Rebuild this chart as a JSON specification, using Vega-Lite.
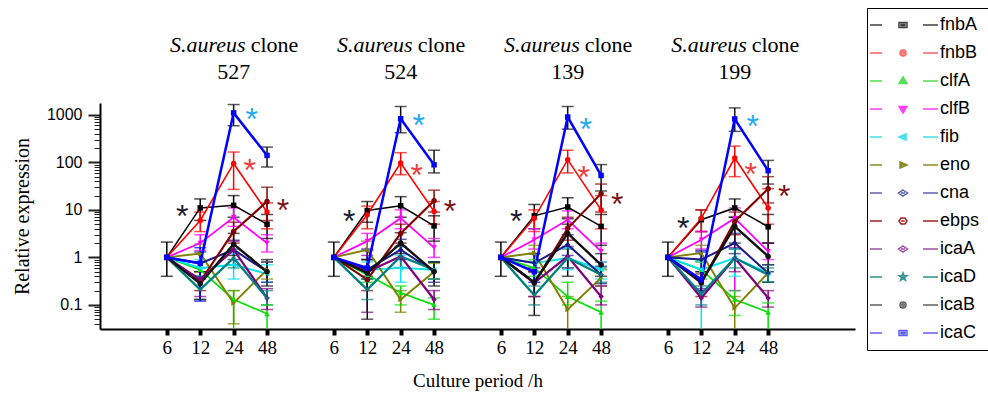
{
 "$schema": "https://vega.github.io/schema/vega-lite/v6.json",
 "width": 755, "height": 226,
 "autosize": {"type": "none"},
 "padding": {"left": 100, "top": 103, "right": 133, "bottom": 68},
 "background": "white",
 "config": {"view": {"stroke": null}},
 "datasets": {
  "d": [
   {"c":"527","g":"fnbA","h":6,"k":"527|6","v":1,"lo":0.4,"hi":2.1},
   {"c":"527","g":"fnbA","h":12,"k":"527|12","v":11,"lo":6,"hi":17},
   {"c":"527","g":"fnbA","h":24,"k":"527|24","v":12.5,"lo":7,"hi":20},
   {"c":"527","g":"fnbA","h":48,"k":"527|48","v":5,"lo":2.5,"hi":8},
   {"c":"527","g":"fnbB","h":6,"k":"527|6","v":1},
   {"c":"527","g":"fnbB","h":12,"k":"527|12","v":6,"lo":3.5,"hi":9},
   {"c":"527","g":"fnbB","h":24,"k":"527|24","v":95,"lo":27,"hi":165},
   {"c":"527","g":"fnbB","h":48,"k":"527|48","v":9,"lo":4,"hi":14},
   {"c":"527","g":"clfA","h":6,"k":"527|6","v":1},
   {"c":"527","g":"clfA","h":12,"k":"527|12","v":0.55,"lo":0.4,"hi":0.8},
   {"c":"527","g":"clfA","h":24,"k":"527|24","v":0.13,"lo":0.02,"hi":0.2},
   {"c":"527","g":"clfA","h":48,"k":"527|48","v":0.065,"lo":0.02,"hi":0.1},
   {"c":"527","g":"clfB","h":6,"k":"527|6","v":1},
   {"c":"527","g":"clfB","h":12,"k":"527|12","v":2,"lo":1.4,"hi":3},
   {"c":"527","g":"clfB","h":24,"k":"527|24","v":7,"lo":4.5,"hi":11},
   {"c":"527","g":"clfB","h":48,"k":"527|48","v":2,"lo":1.3,"hi":3},
   {"c":"527","g":"fib","h":6,"k":"527|6","v":1},
   {"c":"527","g":"fib","h":12,"k":"527|12","v":0.6,"lo":0.4,"hi":0.9},
   {"c":"527","g":"fib","h":24,"k":"527|24","v":0.7,"lo":0.35,"hi":1.2},
   {"c":"527","g":"fib","h":48,"k":"527|48","v":0.45,"lo":0.3,"hi":0.7},
   {"c":"527","g":"eno","h":6,"k":"527|6","v":1},
   {"c":"527","g":"eno","h":12,"k":"527|12","v":1.2,"lo":0.8,"hi":1.9},
   {"c":"527","g":"eno","h":24,"k":"527|24","v":0.11,"lo":0.04,"hi":0.2},
   {"c":"527","g":"eno","h":48,"k":"527|48","v":0.55,"lo":0.35,"hi":0.8},
   {"c":"527","g":"cna","h":6,"k":"527|6","v":1},
   {"c":"527","g":"cna","h":12,"k":"527|12","v":0.75,"lo":0.4,"hi":1.3},
   {"c":"527","g":"cna","h":24,"k":"527|24","v":1.45,"lo":0.9,"hi":2.3},
   {"c":"527","g":"cna","h":48,"k":"527|48","v":0.5,"lo":0.3,"hi":0.8},
   {"c":"527","g":"ebps","h":6,"k":"527|6","v":1},
   {"c":"527","g":"ebps","h":12,"k":"527|12","v":0.31,"lo":0.2,"hi":0.5},
   {"c":"527","g":"ebps","h":24,"k":"527|24","v":3.5,"lo":2,"hi":5.5},
   {"c":"527","g":"ebps","h":48,"k":"527|48","v":15,"lo":6,"hi":30},
   {"c":"527","g":"icaA","h":6,"k":"527|6","v":1},
   {"c":"527","g":"icaA","h":12,"k":"527|12","v":0.34,"lo":0.15,"hi":0.6},
   {"c":"527","g":"icaA","h":24,"k":"527|24","v":1.45,"lo":0.7,"hi":2.2},
   {"c":"527","g":"icaA","h":48,"k":"527|48","v":0.14,"lo":0.08,"hi":0.22},
   {"c":"527","g":"icaD","h":6,"k":"527|6","v":1},
   {"c":"527","g":"icaD","h":12,"k":"527|12","v":0.21,"lo":0.13,"hi":0.35},
   {"c":"527","g":"icaD","h":24,"k":"527|24","v":0.97,"lo":0.6,"hi":1.5},
   {"c":"527","g":"icaD","h":48,"k":"527|48","v":0.14,"lo":0.1,"hi":0.2},
   {"c":"527","g":"icaB","h":6,"k":"527|6","v":1},
   {"c":"527","g":"icaB","h":12,"k":"527|12","v":0.28,"lo":0.13,"hi":0.5},
   {"c":"527","g":"icaB","h":24,"k":"527|24","v":1.9,"lo":1.1,"hi":3.2},
   {"c":"527","g":"icaB","h":48,"k":"527|48","v":0.5,"lo":0.25,"hi":0.9},
   {"c":"527","g":"icaC","h":6,"k":"527|6","v":1},
   {"c":"527","g":"icaC","h":12,"k":"527|12","v":0.75,"lo":0.12,"hi":1.6},
   {"c":"527","g":"icaC","h":24,"k":"527|24","v":1100,"lo":590,"hi":1650},
   {"c":"527","g":"icaC","h":48,"k":"527|48","v":140,"lo":80,"hi":210},

   {"c":"524","g":"fnbA","h":6,"k":"524|6","v":1,"lo":0.4,"hi":2.1},
   {"c":"524","g":"fnbA","h":12,"k":"524|12","v":9.7,"lo":5.5,"hi":15},
   {"c":"524","g":"fnbA","h":24,"k":"524|24","v":12.2,"lo":7,"hi":19},
   {"c":"524","g":"fnbA","h":48,"k":"524|48","v":4.6,"lo":2.2,"hi":7.5},
   {"c":"524","g":"fnbB","h":6,"k":"524|6","v":1},
   {"c":"524","g":"fnbB","h":12,"k":"524|12","v":7.9,"lo":4,"hi":12},
   {"c":"524","g":"fnbB","h":24,"k":"524|24","v":97,"lo":55,"hi":160},
   {"c":"524","g":"fnbB","h":48,"k":"524|48","v":9.3,"lo":5,"hi":15},
   {"c":"524","g":"clfA","h":6,"k":"524|6","v":1},
   {"c":"524","g":"clfA","h":12,"k":"524|12","v":0.43,"lo":0.3,"hi":0.6},
   {"c":"524","g":"clfA","h":24,"k":"524|24","v":0.18,"lo":0.1,"hi":0.25},
   {"c":"524","g":"clfA","h":48,"k":"524|48","v":0.1,"lo":0.05,"hi":0.14},
   {"c":"524","g":"clfB","h":6,"k":"524|6","v":1},
   {"c":"524","g":"clfB","h":12,"k":"524|12","v":2.2,"lo":1.4,"hi":3.2},
   {"c":"524","g":"clfB","h":24,"k":"524|24","v":6.7,"lo":4,"hi":10},
   {"c":"524","g":"clfB","h":48,"k":"524|48","v":1.6,"lo":1,"hi":2.5},
   {"c":"524","g":"fib","h":6,"k":"524|6","v":1},
   {"c":"524","g":"fib","h":12,"k":"524|12","v":0.55,"lo":0.35,"hi":0.8},
   {"c":"524","g":"fib","h":24,"k":"524|24","v":0.6,"lo":0.3,"hi":1.1},
   {"c":"524","g":"fib","h":48,"k":"524|48","v":0.55,"lo":0.35,"hi":0.8},
   {"c":"524","g":"eno","h":6,"k":"524|6","v":1},
   {"c":"524","g":"eno","h":12,"k":"524|12","v":1.45,"lo":0.9,"hi":2.2},
   {"c":"524","g":"eno","h":24,"k":"524|24","v":0.13,"lo":0.07,"hi":0.2},
   {"c":"524","g":"eno","h":48,"k":"524|48","v":0.5,"lo":0.35,"hi":0.75},
   {"c":"524","g":"cna","h":6,"k":"524|6","v":1},
   {"c":"524","g":"cna","h":12,"k":"524|12","v":0.55,"lo":0.35,"hi":0.9},
   {"c":"524","g":"cna","h":24,"k":"524|24","v":1.45,"lo":0.9,"hi":2.4},
   {"c":"524","g":"cna","h":48,"k":"524|48","v":0.5,"lo":0.3,"hi":0.8},
   {"c":"524","g":"ebps","h":6,"k":"524|6","v":1},
   {"c":"524","g":"ebps","h":12,"k":"524|12","v":0.34,"lo":0.2,"hi":0.55},
   {"c":"524","g":"ebps","h":24,"k":"524|24","v":3.2,"lo":2,"hi":5},
   {"c":"524","g":"ebps","h":48,"k":"524|48","v":15.6,"lo":9,"hi":26},
   {"c":"524","g":"icaA","h":6,"k":"524|6","v":1},
   {"c":"524","g":"icaA","h":12,"k":"524|12","v":0.5,"lo":0.07,"hi":1.1},
   {"c":"524","g":"icaA","h":24,"k":"524|24","v":1.05,"lo":0.6,"hi":1.7},
   {"c":"524","g":"icaA","h":48,"k":"524|48","v":0.13,"lo":0.08,"hi":0.2},
   {"c":"524","g":"icaD","h":6,"k":"524|6","v":1},
   {"c":"524","g":"icaD","h":12,"k":"524|12","v":0.21,"lo":0.13,"hi":0.35},
   {"c":"524","g":"icaD","h":24,"k":"524|24","v":1.05,"lo":0.6,"hi":1.7},
   {"c":"524","g":"icaD","h":48,"k":"524|48","v":0.55,"lo":0.35,"hi":0.8},
   {"c":"524","g":"icaB","h":6,"k":"524|6","v":1},
   {"c":"524","g":"icaB","h":12,"k":"524|12","v":0.47,"lo":0.05,"hi":0.9},
   {"c":"524","g":"icaB","h":24,"k":"524|24","v":2,"lo":1.2,"hi":3.3},
   {"c":"524","g":"icaB","h":48,"k":"524|48","v":0.5,"lo":0.25,"hi":0.8},
   {"c":"524","g":"icaC","h":6,"k":"524|6","v":1},
   {"c":"524","g":"icaC","h":12,"k":"524|12","v":0.6,"lo":0.4,"hi":1.5},
   {"c":"524","g":"icaC","h":24,"k":"524|24","v":830,"lo":420,"hi":1500},
   {"c":"524","g":"icaC","h":48,"k":"524|48","v":89,"lo":60,"hi":180},

   {"c":"139","g":"fnbA","h":6,"k":"139|6","v":1,"lo":0.4,"hi":2.1},
   {"c":"139","g":"fnbA","h":12,"k":"139|12","v":7.5,"lo":4,"hi":13},
   {"c":"139","g":"fnbA","h":24,"k":"139|24","v":11.5,"lo":6.5,"hi":18},
   {"c":"139","g":"fnbA","h":48,"k":"139|48","v":4.5,"lo":1.8,"hi":8},
   {"c":"139","g":"fnbB","h":6,"k":"139|6","v":1},
   {"c":"139","g":"fnbB","h":12,"k":"139|12","v":6.7,"lo":3.5,"hi":10},
   {"c":"139","g":"fnbB","h":24,"k":"139|24","v":114,"lo":60,"hi":180},
   {"c":"139","g":"fnbB","h":48,"k":"139|48","v":10,"lo":4,"hi":20},
   {"c":"139","g":"clfA","h":6,"k":"139|6","v":1},
   {"c":"139","g":"clfA","h":12,"k":"139|12","v":0.6,"lo":0.4,"hi":0.9},
   {"c":"139","g":"clfA","h":24,"k":"139|24","v":0.15,"lo":0.1,"hi":0.3},
   {"c":"139","g":"clfA","h":48,"k":"139|48","v":0.07,"lo":0.02,"hi":0.12},
   {"c":"139","g":"clfB","h":6,"k":"139|6","v":1},
   {"c":"139","g":"clfB","h":12,"k":"139|12","v":2.35,"lo":1.5,"hi":4},
   {"c":"139","g":"clfB","h":24,"k":"139|24","v":6.2,"lo":4,"hi":9.5},
   {"c":"139","g":"clfB","h":48,"k":"139|48","v":1.34,"lo":0.8,"hi":2},
   {"c":"139","g":"fib","h":6,"k":"139|6","v":1},
   {"c":"139","g":"fib","h":12,"k":"139|12","v":0.76,"lo":0.5,"hi":1.2},
   {"c":"139","g":"fib","h":24,"k":"139|24","v":0.97,"lo":0.55,"hi":1.6},
   {"c":"139","g":"fib","h":48,"k":"139|48","v":0.55,"lo":0.35,"hi":0.8},
   {"c":"139","g":"eno","h":6,"k":"139|6","v":1},
   {"c":"139","g":"eno","h":12,"k":"139|12","v":1.23,"lo":0.8,"hi":1.8},
   {"c":"139","g":"eno","h":24,"k":"139|24","v":0.08,"lo":0.03,"hi":0.15},
   {"c":"139","g":"eno","h":48,"k":"139|48","v":0.37,"lo":0.25,"hi":0.55},
   {"c":"139","g":"cna","h":6,"k":"139|6","v":1},
   {"c":"139","g":"cna","h":12,"k":"139|12","v":0.76,"lo":0.5,"hi":1.2},
   {"c":"139","g":"cna","h":24,"k":"139|24","v":1.85,"lo":1.1,"hi":3},
   {"c":"139","g":"cna","h":48,"k":"139|48","v":0.43,"lo":0.28,"hi":0.65},
   {"c":"139","g":"ebps","h":6,"k":"139|6","v":1},
   {"c":"139","g":"ebps","h":12,"k":"139|12","v":0.29,"lo":0.15,"hi":0.5},
   {"c":"139","g":"ebps","h":24,"k":"139|24","v":4.1,"lo":2.3,"hi":7},
   {"c":"139","g":"ebps","h":48,"k":"139|48","v":22,"lo":9,"hi":35},
   {"c":"139","g":"icaA","h":6,"k":"139|6","v":1},
   {"c":"139","g":"icaA","h":12,"k":"139|12","v":0.29,"lo":0.15,"hi":0.5},
   {"c":"139","g":"icaA","h":24,"k":"139|24","v":1.05,"lo":0.6,"hi":1.7},
   {"c":"139","g":"icaA","h":48,"k":"139|48","v":0.15,"lo":0.1,"hi":0.25},
   {"c":"139","g":"icaD","h":6,"k":"139|6","v":1},
   {"c":"139","g":"icaD","h":12,"k":"139|12","v":0.16,"lo":0.1,"hi":0.25},
   {"c":"139","g":"icaD","h":24,"k":"139|24","v":0.97,"lo":0.6,"hi":1.5},
   {"c":"139","g":"icaD","h":48,"k":"139|48","v":0.43,"lo":0.3,"hi":0.6},
   {"c":"139","g":"icaB","h":6,"k":"139|6","v":1},
   {"c":"139","g":"icaB","h":12,"k":"139|12","v":0.3,"lo":0.06,"hi":0.6},
   {"c":"139","g":"icaB","h":24,"k":"139|24","v":3.2,"lo":0.4,"hi":5},
   {"c":"139","g":"icaB","h":48,"k":"139|48","v":0.7,"lo":0.4,"hi":1.2},
   {"c":"139","g":"icaC","h":6,"k":"139|6","v":1},
   {"c":"139","g":"icaC","h":12,"k":"139|12","v":0.5,"lo":0.3,"hi":1.2},
   {"c":"139","g":"icaC","h":24,"k":"139|24","v":900,"lo":500,"hi":1500},
   {"c":"139","g":"icaC","h":48,"k":"139|48","v":53,"lo":25,"hi":90},

   {"c":"199","g":"fnbA","h":6,"k":"199|6","v":1,"lo":0.4,"hi":2.1},
   {"c":"199","g":"fnbA","h":12,"k":"199|12","v":6.2,"lo":3.5,"hi":10},
   {"c":"199","g":"fnbA","h":24,"k":"199|24","v":11,"lo":7,"hi":17},
   {"c":"199","g":"fnbA","h":48,"k":"199|48","v":4.4,"lo":2,"hi":8},
   {"c":"199","g":"fnbB","h":6,"k":"199|6","v":1},
   {"c":"199","g":"fnbB","h":12,"k":"199|12","v":6.7,"lo":3.5,"hi":10},
   {"c":"199","g":"fnbB","h":24,"k":"199|24","v":123,"lo":50,"hi":220},
   {"c":"199","g":"fnbB","h":48,"k":"199|48","v":11,"lo":5,"hi":28},
   {"c":"199","g":"clfA","h":6,"k":"199|6","v":1},
   {"c":"199","g":"clfA","h":12,"k":"199|12","v":0.55,"lo":0.35,"hi":0.85},
   {"c":"199","g":"clfA","h":24,"k":"199|24","v":0.13,"lo":0.06,"hi":0.2},
   {"c":"199","g":"clfA","h":48,"k":"199|48","v":0.07,"lo":0.02,"hi":0.11},
   {"c":"199","g":"clfB","h":6,"k":"199|6","v":1},
   {"c":"199","g":"clfB","h":12,"k":"199|12","v":2.35,"lo":1.5,"hi":3.5},
   {"c":"199","g":"clfB","h":24,"k":"199|24","v":6.7,"lo":0.2,"hi":11},
   {"c":"199","g":"clfB","h":48,"k":"199|48","v":1.34,"lo":0.9,"hi":2},
   {"c":"199","g":"fib","h":6,"k":"199|6","v":1},
   {"c":"199","g":"fib","h":12,"k":"199|12","v":0.55,"lo":0.02,"hi":0.8},
   {"c":"199","g":"fib","h":24,"k":"199|24","v":0.97,"lo":0.4,"hi":1.5},
   {"c":"199","g":"fib","h":48,"k":"199|48","v":0.47,"lo":0.3,"hi":0.7},
   {"c":"199","g":"eno","h":6,"k":"199|6","v":1},
   {"c":"199","g":"eno","h":12,"k":"199|12","v":1.23,"lo":0.8,"hi":1.8},
   {"c":"199","g":"eno","h":24,"k":"199|24","v":0.086,"lo":0.02,"hi":0.15},
   {"c":"199","g":"eno","h":48,"k":"199|48","v":0.47,"lo":0.3,"hi":0.7},
   {"c":"199","g":"cna","h":6,"k":"199|6","v":1},
   {"c":"199","g":"cna","h":12,"k":"199|12","v":0.9,"lo":0.5,"hi":1.4},
   {"c":"199","g":"cna","h":24,"k":"199|24","v":2,"lo":1.2,"hi":3.2},
   {"c":"199","g":"cna","h":48,"k":"199|48","v":0.47,"lo":0.3,"hi":0.7},
   {"c":"199","g":"ebps","h":6,"k":"199|6","v":1},
   {"c":"199","g":"ebps","h":12,"k":"199|12","v":0.29,"lo":0.15,"hi":0.45},
   {"c":"199","g":"ebps","h":24,"k":"199|24","v":5.7,"lo":3,"hi":9},
   {"c":"199","g":"ebps","h":48,"k":"199|48","v":28,"lo":14,"hi":50},
   {"c":"199","g":"icaA","h":6,"k":"199|6","v":1},
   {"c":"199","g":"icaA","h":12,"k":"199|12","v":0.14,"lo":0.09,"hi":0.22},
   {"c":"199","g":"icaA","h":24,"k":"199|24","v":0.97,"lo":0.5,"hi":1.6},
   {"c":"199","g":"icaA","h":48,"k":"199|48","v":0.14,"lo":0.09,"hi":0.2},
   {"c":"199","g":"icaD","h":6,"k":"199|6","v":1},
   {"c":"199","g":"icaD","h":12,"k":"199|12","v":0.17,"lo":0.1,"hi":0.25},
   {"c":"199","g":"icaD","h":24,"k":"199|24","v":0.97,"lo":0.6,"hi":1.5},
   {"c":"199","g":"icaD","h":48,"k":"199|48","v":0.43,"lo":0.3,"hi":0.6},
   {"c":"199","g":"icaB","h":6,"k":"199|6","v":1},
   {"c":"199","g":"icaB","h":12,"k":"199|12","v":0.3,"lo":0.2,"hi":0.5},
   {"c":"199","g":"icaB","h":24,"k":"199|24","v":4.5,"lo":2,"hi":7},
   {"c":"199","g":"icaB","h":48,"k":"199|48","v":1.05,"lo":0.5,"hi":2},
   {"c":"199","g":"icaC","h":6,"k":"199|6","v":1},
   {"c":"199","g":"icaC","h":12,"k":"199|12","v":0.34,"lo":0.2,"hi":1.3},
   {"c":"199","g":"icaC","h":24,"k":"199|24","v":820,"lo":450,"hi":1400},
   {"c":"199","g":"icaC","h":48,"k":"199|48","v":67,"lo":35,"hi":110}
  ],
  "stars": [
   {"k":"527|12","g":"fnbA","v":11},
   {"k":"527|24","g":"fnbB","v":103},
   {"k":"527|24","g":"icaC","v":1180},
   {"k":"527|48","g":"ebps","v":15},
   {"k":"524|12","g":"fnbA","v":8.7},
   {"k":"524|24","g":"fnbB","v":81},
   {"k":"524|24","g":"icaC","v":920},
   {"k":"524|48","g":"ebps","v":14},
   {"k":"139|12","g":"fnbA","v":8.7},
   {"k":"139|24","g":"fnbB","v":73},
   {"k":"139|24","g":"icaC","v":755},
   {"k":"139|48","g":"ebps","v":20},
   {"k":"199|12","g":"fnbA","v":6.2},
   {"k":"199|24","g":"fnbB","v":85},
   {"k":"199|24","g":"icaC","v":870},
   {"k":"199|48","g":"ebps","v":29}
  ],
  "titles": [
   {"k":"527|24","c":"527"},
   {"k":"524|24","c":"524"},
   {"k":"139|24","c":"139"},
   {"k":"199|24","c":"199"}
  ]
 },
 "resolve": {"scale": {"shape": "independent", "stroke": "independent", "color": "independent"}},
 "encoding": {
  "x": {
   "field": "k", "type": "ordinal",
   "scale": {"type": "point", "padding": 0.3, "align": 0,
     "domain": ["_a","_b","527|6","527|12","527|24","527|48","_c","524|6","524|12","524|24","524|48","_d","139|6","139|12","139|24","139|48","_e","199|6","199|12","199|24","199|48","_f","_g"]},
   "title": "Culture period /h",
   "axis": {
     "values": ["527|6","527|12","527|24","527|48","524|6","524|12","524|24","524|48","139|6","139|12","139|24","139|48","199|6","199|12","199|24","199|48"],
     "labelExpr": "split(datum.value,'|')[1]",
     "labelAngle": 0, "grid": false,
     "domainColor": "black", "domainWidth": 2,
     "tickColor": "black", "tickWidth": 4, "tickSize": 6,
     "labelFont": "Liberation Serif", "labelFontSize": 19, "labelColor": "black", "labelPadding": 3,
     "titleFont": "Liberation Serif", "titleFontSize": 19, "titleFontWeight": "normal", "titleColor": "black", "titlePadding": 14
   }
  }
 },
 "layer": [
  {
   "data": {"name": "d"},
   "transform": [{"filter": "isValid(datum.lo)"}],
   "mark": {"type": "rule", "strokeWidth": 1.5, "clip": true},
   "encoding": {
    "y": {"field": "lo", "type": "quantitative", "title": "Relative expression"},
    "y2": {"field": "hi"},
    "stroke": {"condition": {"test": "datum.g === 'icaC' && datum.h > 12", "value": "#111111"}, "field": "g", "type": "nominal", "legend": null,
      "scale": {"domain": ["icaC","icaB","icaD","icaA","ebps","cna","eno","fib","clfB","clfA","fnbB","fnbA"],
                "range": ["#0000ff","#111111","#008080","#800080","#800000","#1a1a8a","#808000","#00e5ee","#ff00ff","#00e000","#ff0000","#000000"]}}
   }
  },
  {
   "data": {"name": "d"},
   "transform": [{"filter": "isValid(datum.lo)"}],
   "mark": {"type": "tick", "orient": "horizontal", "size": 12, "thickness": 1.5, "clip": true},
   "encoding": {
    "y": {"field": "lo", "type": "quantitative", "title": "Relative expression"},
    "fill": {"condition": {"test": "datum.g === 'icaC' && datum.h > 12", "value": "#111111"}, "field": "g", "type": "nominal", "legend": null,
      "scale": {"domain": ["icaC","icaB","icaD","icaA","ebps","cna","eno","fib","clfB","clfA","fnbB","fnbA"],
                "range": ["#0000ff","#111111","#008080","#800080","#800000","#1a1a8a","#808000","#00e5ee","#ff00ff","#00e000","#ff0000","#000000"]}}
   }
  },
  {
   "data": {"name": "d"},
   "transform": [{"filter": "isValid(datum.lo)"}],
   "mark": {"type": "tick", "orient": "horizontal", "size": 12, "thickness": 1.5, "clip": true},
   "encoding": {
    "y": {"field": "hi", "type": "quantitative", "title": "Relative expression"},
    "fill": {"condition": {"test": "datum.g === 'icaC' && datum.h > 12", "value": "#111111"}, "field": "g", "type": "nominal", "legend": null}
   }
  },
  {
   "data": {"name": "d"},
   "mark": {"type": "line"},
   "encoding": {
    "y": {
     "field": "v", "type": "quantitative", "title": "Relative expression",
     "scale": {"type": "log", "domain": [0.0311, 1778], "nice": false},
     "axis": {
      "values": [0.04,0.05,0.06,0.07,0.08,0.09,0.1,0.2,0.3,0.4,0.5,0.6,0.7,0.8,0.9,1,2,3,4,5,6,7,8,9,10,20,30,40,50,60,70,80,90,100,200,300,400,500,600,700,800,900,1000],
      "format": "~g",
      "labelExpr": "indexof([0.1,1,10,100,1000], datum.value) >= 0 ? datum.label : ''",
      "tickSize": {"condition": {"test": "indexof([0.1,1,10,100,1000], datum.value) >= 0", "value": 12}, "value": 6},
      "tickWidth": {"condition": {"test": "indexof([0.1,1,10,100,1000], datum.value) >= 0", "value": 2}, "value": 1},
      "tickColor": "#222222", "grid": false,
      "domainColor": "black", "domainWidth": 2,
      "labelFont": "Liberation Sans", "labelFontSize": 16, "labelColor": "black", "labelPadding": 6,
      "titleFont": "Liberation Serif", "titleFontSize": 20, "titleFontWeight": "normal", "titleColor": "black", "titlePadding": 14
     }
    },
    "stroke": {"field": "g", "type": "nominal", "legend": null,
      "scale": {"domain": ["icaC","icaB","icaD","icaA","ebps","cna","eno","fib","clfB","clfA","fnbB","fnbA"],
                "range": ["#0000ff","#111111","#008080","#800080","#800000","#1a1a8a","#808000","#00e5ee","#ff00ff","#00e000","#ff0000","#000000"]}},
    "detail": {"field": "c"},
    "order": {"field": "h", "type": "quantitative"},
    "strokeWidth": {"field": "g", "type": "nominal", "legend": null,
      "scale": {"domain": ["icaC","icaB","icaD","icaA","ebps","cna","eno","fib","clfB","clfA","fnbB","fnbA"],
                "range": [2.5,1.5,1.2,1.2,2.5,1.2,2.5,1.2,2.5,1.2,2.5,2.5]}}
   }
  },
  {
   "data": {"name": "d"},
   "mark": {"type": "point", "filled": true, "size": 30, "opacity": 1},
   "encoding": {
    "y": {"field": "v", "type": "quantitative", "title": "Relative expression"},
    "fill": {"field": "g", "type": "nominal", "legend": null},
    "shape": {"field": "g", "type": "nominal", "legend": null,
      "scale": {"domain": ["icaC","icaB","icaD","icaA","ebps","cna","eno","fib","clfB","clfA","fnbB","fnbA"],
                "range": ["square","circle","M0,-1L0.24,-0.31L0.95,-0.31L0.38,0.12L0.59,0.81L0,0.4L-0.59,0.81L-0.38,0.12L-0.95,-0.31L-0.24,-0.31Z","diamond","circle","diamond","triangle-right","triangle-left","triangle-down","triangle-up","circle","square"]}}
   }
  },
  {
   "data": {"name": "d"},
   "transform": [{"filter": "datum.h === 6 && datum.c === '527'"}],
   "mark": {"type": "point", "filled": true, "opacity": 0, "strokeWidth": 1.5},
   "encoding": {
    "y": {"field": "v", "type": "quantitative", "title": "Relative expression"},
    "color": {"field": "g", "type": "nominal",
      "scale": {"domain": ["fnbA","fnbB","clfA","clfB","fib","eno","cna","ebps","icaA","icaD","icaB","icaC"],
                "range": ["#000000","#ff0000","#00c800","#ff00ff","#00d8e8","#808000","#000080","#800000","#800080","#008080","#000000","#0000ff"]},
      "legend": {
        "title": null, "orient": "none", "legendX": 767, "legendY": -95,
        "padding": 8, "rowPadding": 10, "symbolOffset": 19, "labelOffset": 28,
        "symbolSize": 100, "symbolStrokeWidth": 1.5, "symbolOpacity": 1,
        "strokeColor": "black", "fillColor": "white",
        "labelFont": "Liberation Sans", "labelFontSize": 18, "labelColor": "black", "labelLimit": 200
      }},
    "stroke": {"field": "g", "type": "nominal",
      "scale": {"domain": ["fnbA","fnbB","clfA","clfB","fib","eno","cna","ebps","icaA","icaD","icaB","icaC"],
                "range": ["#404040","#ff6060","#50e050","#ff40ff","#40e0f0","#8a8a20","#6060b0","#a02020","#a050a8","#309090","#606060","#6060ff"]}},
    "shape": {"field": "g", "type": "nominal",
      "scale": {"domain": ["fnbA","fnbB","clfA","clfB","fib","eno","cna","ebps","icaA","icaD","icaB","icaC"],
                "range": [
                 "M-6.6,0H-4.2M4,0H7M-0.8,-0.5H0.8V0.5H-0.8ZM-0.4,-0.15H0.4V0.15H-0.4Z",
                 "M-6.6,0H-4.2M4,0H7M-0.6,0A0.6,0.6,0,1,0,0.6,0A0.6,0.6,0,1,0,-0.6,0ZM-0.25,0A0.25,0.25,0,1,0,0.25,0A0.25,0.25,0,1,0,-0.25,0Z",
                 "M-6.6,0H-4.2M4,0H7M0,-0.8L0.8,0.5H-0.8ZM0,-0.3L0.35,0.25H-0.35Z",
                 "M-6.6,0H-4.2M4,0H7M0,0.8L0.8,-0.5H-0.8ZM0,0.3L0.35,-0.25H-0.35Z",
                 "M-6.6,0H-4.2M4,0H7M-0.8,0L0.6,-0.6V0.6ZM-0.3,0L0.3,-0.25V0.25Z",
                 "M-6.6,0H-4.2M4,0H7M0.8,0L-0.6,-0.6V0.6ZM0.3,0L-0.3,-0.25V0.25Z",
                 "M-6.6,0H-4.2M4,0H7M0,-0.6L0.9,0L0,0.6L-0.9,0ZM-0.4,0H0.4",
                 "M-6.6,0H-4.2M4,0H7M-0.8,0L-0.4,-0.6H0.4L0.8,0L0.4,0.6H-0.4ZM-0.35,0H0.35",
                 "M-6.6,0H-4.2M4,0H7M0,-0.6L0.9,0L0,0.6L-0.9,0ZM-0.4,0H0.4",
                 "M-6.6,0H-4.2M4,0H7M0,-0.8L0.2,-0.25L0.76,-0.25L0.3,0.1L0.47,0.65L0,0.32L-0.47,0.65L-0.3,0.1L-0.76,-0.25L-0.2,-0.25ZM0,-0.2V0.2",
                 "M-6.6,0H-4.2M4,0H7M-0.6,0A0.6,0.6,0,1,0,0.6,0A0.6,0.6,0,1,0,-0.6,0ZM-0.25,0A0.25,0.25,0,1,0,0.25,0A0.25,0.25,0,1,0,-0.25,0Z",
                 "M-6.6,0H-4.2M4,0H7M-0.8,-0.5H0.8V0.5H-0.8ZM-0.4,-0.15H0.4V0.15H-0.4Z"]}}
   }
  },
  {
   "data": {"name": "stars"},
   "transform": [{"filter": "datum.g === 'fnbA'"}],
   "mark": {"type": "text", "text": "*", "font": "Liberation Sans", "fontSize": 32, "baseline": "alphabetic", "align": "center", "dx": -18, "dy": 19, "color": "#1a1a30"},
   "encoding": {"y": {"field": "v", "type": "quantitative", "title": "Relative expression"}}
  },
  {
   "data": {"name": "stars"},
   "transform": [{"filter": "datum.g === 'fnbB'"}],
   "mark": {"type": "text", "text": "*", "font": "Liberation Sans", "fontSize": 32, "baseline": "alphabetic", "align": "center", "dx": 16, "dy": 19, "color": "#f03c3c"},
   "encoding": {"y": {"field": "v", "type": "quantitative", "title": "Relative expression"}}
  },
  {
   "data": {"name": "stars"},
   "transform": [{"filter": "datum.g === 'icaC'"}],
   "mark": {"type": "text", "text": "*", "font": "Liberation Sans", "fontSize": 32, "baseline": "alphabetic", "align": "center", "dx": 18, "dy": 19, "color": "#22aaee"},
   "encoding": {"y": {"field": "v", "type": "quantitative", "title": "Relative expression"}}
  },
  {
   "data": {"name": "stars"},
   "transform": [{"filter": "datum.g === 'ebps'"}],
   "mark": {"type": "text", "text": "*", "font": "Liberation Sans", "fontSize": 32, "baseline": "alphabetic", "align": "center", "dx": 16, "dy": 19, "color": "#7a1414"},
   "encoding": {"y": {"field": "v", "type": "quantitative", "title": "Relative expression"}}
  },
  {
   "data": {"name": "titles"},
   "mark": {"type": "text", "text": "S.aureus", "font": "Liberation Serif", "fontStyle": "italic", "fontSize": 22, "align": "right", "baseline": "middle", "dx": 12, "color": "black"},
   "encoding": {"y": {"datum": 29000, "type": "quantitative", "title": "Relative expression"}}
  },
  {
   "data": {"name": "titles"},
   "mark": {"type": "text", "text": "clone", "font": "Liberation Serif", "fontSize": 22, "align": "left", "baseline": "middle", "dx": 17, "color": "black"},
   "encoding": {"y": {"datum": 29000, "type": "quantitative", "title": "Relative expression"}}
  },
  {
   "data": {"name": "titles"},
   "mark": {"type": "text", "font": "Liberation Serif", "fontSize": 22, "align": "center", "baseline": "middle", "color": "black"},
   "encoding": {"y": {"datum": 7900, "type": "quantitative", "title": "Relative expression"}, "text": {"field": "c"}}
  }
 ]
}
